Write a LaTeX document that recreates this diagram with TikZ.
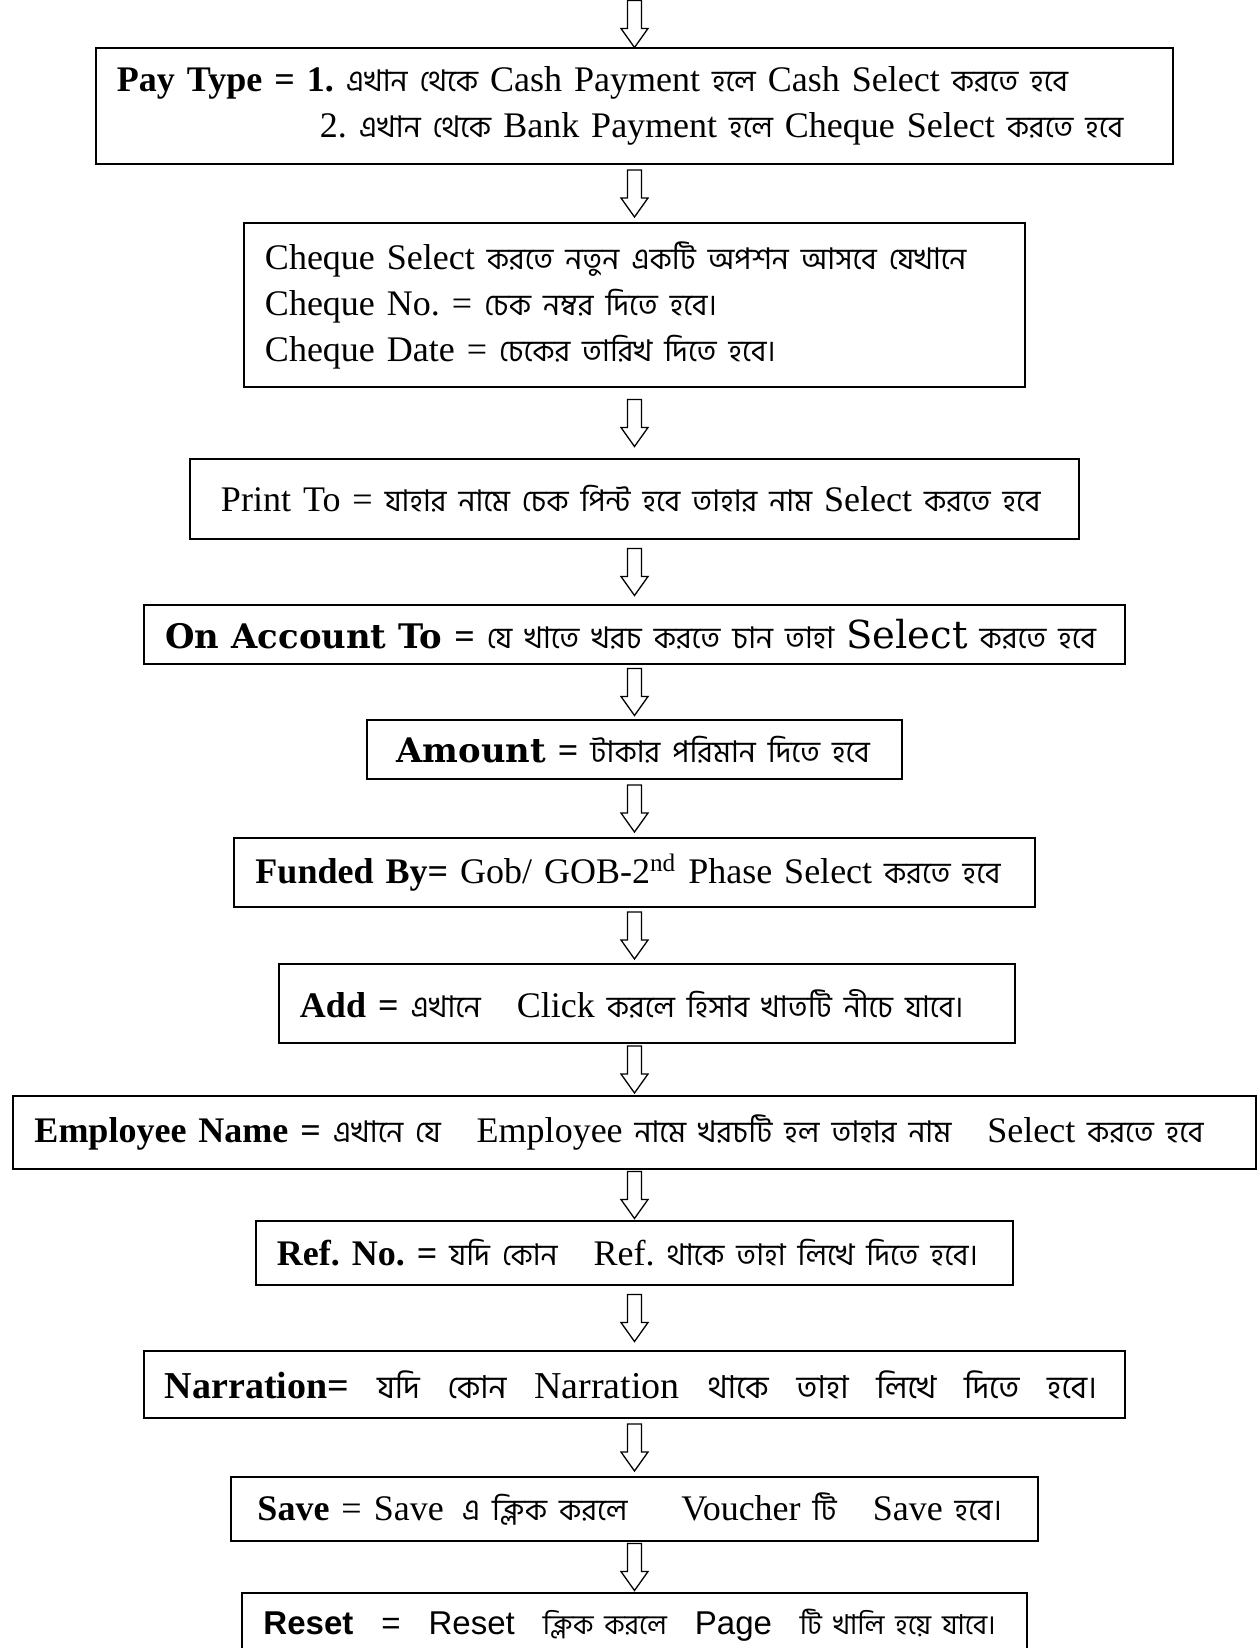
\documentclass[tikz,border=0pt]{standalone}
\usepackage{fontspec}
\setmainfont{Liberation Serif}
\newfontfamily\bngfont[Script=Bengali,Scale=0.83]{Hind Siliguri}
\newfontfamily\slabfont[Scale=0.94]{DejaVu Serif}
\newfontfamily\arialfont{Liberation Sans}
\newcommand{\bng}[1]{{\bngfont #1}}
\frenchspacing
\usetikzlibrary{positioning}

\tikzset{
  box/.style={draw, line width=1pt, outer sep=0pt, inner xsep=10.5pt, inner ysep=0pt, align=left,
    font=\fontsize{18pt}{23pt}\selectfont},
  big/.style={font=\fontsize{19pt}{23pt}\selectfont},
  sans/.style={font=\fontsize{16.5pt}{23pt}\selectfont\arialfont},
  downarrow/.pic={
    \draw[line width=0.65pt, line join=miter]
      (-3.5pt,11.75pt) -- (-3.5pt,-2.25pt) -- (-6.75pt,-2.25pt) -- (0pt,-11.75pt)
      -- (6.75pt,-2.25pt) -- (3.5pt,-2.25pt) -- (3.5pt,11.75pt) -- cycle;
  }
}

\begin{document}
\begin{tikzpicture}
  \useasboundingbox (-317.25pt,53pt) rectangle (311.25pt,-771pt);

  \node[box, text width=517.5pt, minimum height=58pt] (pay) at (0,0)
    {\mbox{\textbf{Pay Type = 1.} \bng{এখান থেকে} Cash Payment \bng{হলে} Cash Select \bng{করতে হবে}}\\
     \hspace*{101.5pt}\mbox{2. \bng{এখান থেকে} Bank Payment \bng{হলে} Cheque Select \bng{করতে হবে}}};
  \node[box, text width=369.5pt, minimum height=82pt, below=29.5pt of pay] (cheque)
    {\mbox{Cheque Select \bng{করতে নতুন একটি অপশন আসবে যেখানে}}\\
     \mbox{Cheque No. = \bng{চেক নম্বর দিতে হবে।}}\\
     \mbox{Cheque Date = \bng{চেকের তারিখ দিতে হবে।}}};
  \node[box, inner xsep=15.5pt, text width=413.5pt, minimum height=40pt, below=36pt of cheque] (print)
    {\mbox{Print To = \bng{যাহার নামে চেক পিন্ট হবে তাহার নাম} Select \bng{করতে হবে}}};
  \node[box, text width=469pt, minimum height=29.5pt, below=33pt of print] (account)
    {\mbox{{\slabfont\bfseries On Account To} \textbf{=} \bng{যে খাতে খরচ করতে চান তাহা}
      {\slabfont\fontsize{20.5pt}{23pt}\selectfont Select} \bng{করতে হবে}}};
  \node[box, inner xsep=14.5pt, text width=238pt, minimum height=29.5pt, below=28pt of account] (amount)
    {\mbox{{\slabfont\bfseries Amount} \textbf{=} \bng{টাকার পরিমান দিতে হবে}}};
  \node[box, text width=379pt, minimum height=34.5pt, below=29.5pt of amount] (fund)
    {\mbox{\textbf{Funded By=} Gob/ GOB-2\textsuperscript{nd} Phase Select \bng{করতে হবে}}};
  \node[box, text width=347pt, minimum height=39.5pt, below=28.5pt of fund, xshift=6.25pt] (add)
    {\mbox{\textbf{Add =} \bng{এখানে}\quad Click \bng{করলে হিসাব খাতটি নীচে যাবে।}}};
  \node[box, text width=600pt, minimum height=36.5pt, below=26.5pt of add, xshift=-6.25pt] (emp)
    {\mbox{\textbf{Employee Name =} \bng{এখানে যে}\quad Employee \bng{নামে খরচটি হল তাহার নাম}\quad Select \bng{করতে হবে}}};
  \node[box, text width=357.5pt, minimum height=32pt, below=26pt of emp] (ref)
    {\mbox{\textbf{Ref. No. =} \bng{যদি কোন}\quad Ref. \bng{থাকে তাহা লিখে দিতে হবে।}}};
  \node[box, big, text width=469.5pt, minimum height=33.5pt, below=33pt of ref] (narr)
    {\hbox to 466pt{\textbf{Narration=}\hfill\bng{যদি}\hfill\bng{কোন}\hfill Narration\hfill
      \bng{থাকে}\hfill\bng{তাহা}\hfill\bng{লিখে}\hfill\bng{দিতে}\hfill\bng{হবে।}}};
  \node[box, inner xsep=13pt, text width=377pt, minimum height=32pt, below=29.5pt of narr] (save)
    {\mbox{\textbf{Save} = Save\enspace \bng{এ ক্লিক করলে}\quad\enspace Voucher \bng{টি}\quad Save \bng{হবে।}}};
  \node[box, sans, text width=371pt, minimum height=32pt, below=26pt of save] (reset)
    {\mbox{\textbf{Reset}\hspace{14pt}=\hspace{14pt}Reset\hspace{14pt}\bng{ক্লিক করলে}\hspace{14pt}Page\hspace{14pt}\bng{টি খালি হয়ে যাবে।}}};

  \coordinate[above=24pt of pay] (start);

  \path (start) -- pic{downarrow} (pay.north)
    (pay.south) -- pic{downarrow} (cheque.north -| pay)
    (cheque.south -| pay) -- pic{downarrow} (print.north -| pay)
    (print.south -| pay) -- pic{downarrow} (account.north -| pay)
    (account.south -| pay) -- pic{downarrow} (amount.north -| pay)
    (amount.south -| pay) -- pic{downarrow} (fund.north -| pay)
    (fund.south -| pay) -- pic{downarrow} (add.north -| pay)
    (add.south -| pay) -- pic{downarrow} (emp.north -| pay)
    (emp.south -| pay) -- pic{downarrow} (ref.north -| pay)
    (ref.south -| pay) -- pic{downarrow} (narr.north -| pay)
    (narr.south -| pay) -- pic{downarrow} (save.north -| pay)
    (save.south -| pay) -- pic{downarrow} (reset.north -| pay);
\end{tikzpicture}
\end{document}
